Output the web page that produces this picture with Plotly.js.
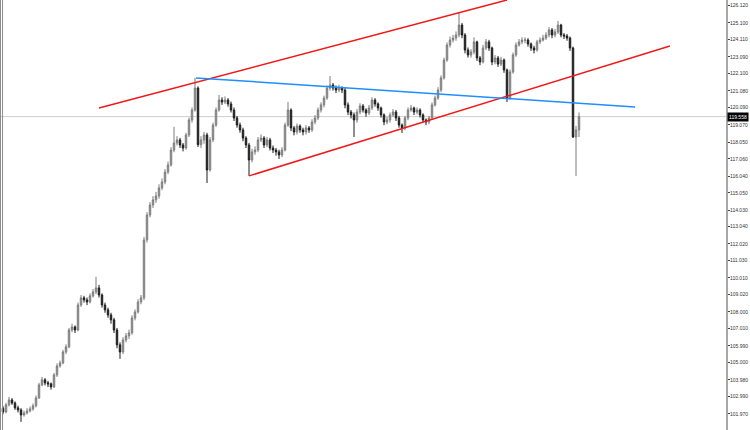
<!DOCTYPE html>
<html>
<head>
<meta charset="utf-8">
<script src="https://cdn.plot.ly/plotly-3.0.1.min.js"></script>
<style>html,body{margin:0;padding:0;background:#fff;}#chart{width:750px;height:430px;}</style>
</head>
<body>
<div id="chart"></div>
<script>
// OHLC prices (bar index 0..192)
const opens = [102.30,102.08,102.50,102.79,102.61,102.32,102.20,101.90,102.02,102.14,102.26,102.44,102.91,103.68,103.98,103.80,103.74,103.56,104.27,104.80,104.98,105.63,105.93,106.93,107.11,106.93,108.41,108.83,108.71,108.59,108.95,109.18,109.42,109.00,108.41,108.12,107.82,107.53,106.93,106.05,105.63,106.34,106.58,106.76,107.64,108.00,108.59,108.83,112.26,113.74,114.33,114.63,114.86,115.34,115.69,116.28,116.70,117.58,118.00,118.18,117.88,117.70,118.47,119.36,119.95,121.25,117.90,118.18,118.47,116.40,118.18,119.06,119.95,120.54,120.42,120.54,120.31,119.95,119.48,119.06,118.77,118.29,117.88,116.99,117.47,117.58,118.18,118.29,117.88,118.18,117.70,117.58,117.47,117.29,117.58,119.06,119.95,118.89,118.65,119.00,118.77,118.65,118.89,118.77,119.24,119.48,119.95,120.25,120.66,121.25,121.43,121.25,121.13,121.25,121.13,120.25,119.83,119.66,119.36,119.83,120.19,119.95,119.77,120.07,120.54,120.31,120.07,119.66,119.24,119.36,119.66,119.83,119.48,119.06,118.89,119.48,119.95,120.07,119.83,119.95,119.66,119.36,119.24,119.48,120.25,120.66,121.13,121.85,122.91,123.80,124.09,124.21,124.39,124.98,124.39,123.50,123.21,123.38,123.98,123.03,122.79,123.62,123.98,123.62,122.79,123.03,122.67,122.91,122.32,120.66,122.20,123.21,123.80,123.98,124.09,124.09,123.86,123.62,123.50,123.98,124.09,124.21,124.39,124.69,124.39,124.57,124.98,124.39,124.33,124.21,123.62,118.35,118.77];
const highs = [102.42,102.62,102.97,102.90,102.70,102.45,102.30,102.15,102.30,102.40,102.58,103.05,103.80,104.15,104.08,103.92,103.82,104.38,104.95,105.12,105.75,106.08,107.05,107.30,107.20,108.55,109.00,108.95,108.85,109.10,109.35,110.07,109.60,109.10,108.55,108.25,107.95,107.65,107.05,106.20,106.50,106.75,106.95,107.80,108.15,108.75,109.00,112.44,113.90,114.50,114.85,115.10,115.55,115.90,116.45,116.90,117.75,118.95,118.40,118.30,118.00,118.60,119.50,120.10,121.85,121.35,118.40,118.65,118.60,118.35,119.20,120.10,120.84,120.70,120.75,120.65,120.45,120.10,119.60,119.20,118.90,118.40,118.00,117.65,117.80,118.35,118.50,118.40,118.35,118.30,117.85,117.70,117.60,117.75,119.20,120.42,120.05,119.00,119.15,119.10,118.90,119.05,119.00,119.40,119.65,120.10,120.40,120.80,121.40,121.96,121.55,121.40,121.45,121.35,121.25,120.40,119.95,119.80,120.00,120.35,120.30,120.05,120.25,120.70,120.65,120.40,120.15,119.75,119.55,119.80,120.00,119.95,119.60,119.15,119.60,120.10,120.25,120.15,120.10,120.05,119.75,119.45,119.60,120.40,120.80,121.30,122.00,123.05,123.95,124.30,124.40,124.60,125.75,125.10,124.50,123.65,123.55,124.25,124.05,123.15,123.80,124.15,124.10,123.70,123.20,123.15,123.10,123.00,122.40,122.35,123.35,123.95,124.15,124.25,124.25,124.20,123.95,123.75,124.10,124.25,124.40,124.55,124.85,124.80,124.75,125.22,125.05,124.50,124.45,124.30,123.70,119.00,119.80];
const lows = [101.95,102.00,102.40,102.50,102.20,102.05,101.49,101.80,101.92,102.05,102.15,102.35,102.85,103.60,103.65,103.55,103.40,103.50,104.15,104.70,104.90,105.50,105.85,106.80,106.75,106.85,108.30,108.55,108.40,108.50,108.85,109.05,108.85,108.25,107.95,107.65,107.30,106.75,105.85,105.22,105.50,106.20,106.40,106.65,107.50,107.90,108.45,108.70,112.10,113.60,114.15,114.45,114.70,115.20,115.55,116.15,116.60,117.45,117.85,117.70,117.50,117.60,118.35,119.20,119.85,117.76,117.70,117.95,115.63,116.30,118.05,118.95,119.85,120.25,120.30,120.15,119.80,119.30,118.90,118.60,118.10,117.70,116.05,116.85,117.30,117.45,118.05,117.70,117.75,117.55,117.40,117.25,117.05,117.15,117.50,118.95,118.70,118.45,118.50,118.60,118.45,118.50,118.60,118.65,119.10,119.35,119.80,120.10,120.55,121.10,121.10,120.95,121.00,120.95,120.05,119.65,119.45,118.35,119.20,119.70,119.80,119.55,119.65,119.95,120.15,119.90,119.50,119.05,119.10,119.20,119.55,119.30,118.90,118.59,118.75,119.35,119.85,119.65,119.70,119.50,119.20,119.05,119.10,119.40,120.15,120.55,121.00,121.75,122.80,123.65,123.95,124.05,124.25,124.20,123.30,123.05,123.05,123.25,122.85,122.60,122.70,123.50,123.45,122.60,122.65,122.50,122.55,122.15,120.42,120.55,122.10,123.10,123.70,123.85,123.90,123.70,123.45,123.30,123.40,123.85,124.00,124.10,124.25,124.20,124.25,124.45,124.25,124.15,124.05,123.45,118.30,116.05,118.35];
const closes = [102.08,102.50,102.79,102.61,102.32,102.20,101.90,102.02,102.14,102.26,102.44,102.91,103.68,103.98,103.80,103.74,103.56,104.27,104.80,104.98,105.63,105.93,106.93,107.11,106.93,108.41,108.83,108.71,108.59,108.95,109.18,109.42,109.00,108.41,108.12,107.82,107.53,106.93,106.05,105.63,106.34,106.58,106.76,107.64,108.00,108.59,108.83,112.26,113.74,114.33,114.63,114.86,115.34,115.69,116.28,116.70,117.58,118.00,118.18,117.88,117.70,118.47,119.36,119.95,121.25,117.90,118.18,118.47,116.40,118.18,119.06,119.95,120.54,120.42,120.54,120.31,119.95,119.48,119.06,118.77,118.29,117.88,116.99,117.47,117.58,118.18,118.29,117.88,118.18,117.70,117.58,117.47,117.29,117.58,119.06,119.95,118.89,118.65,119.00,118.77,118.65,118.89,118.77,119.24,119.48,119.95,120.25,120.66,121.25,121.43,121.25,121.13,121.25,121.13,120.25,119.83,119.66,119.36,119.83,120.19,119.95,119.77,120.07,120.54,120.31,120.07,119.66,119.24,119.36,119.66,119.83,119.48,119.06,118.89,119.48,119.95,120.07,119.83,119.95,119.66,119.36,119.24,119.48,120.25,120.66,121.13,121.85,122.91,123.80,124.09,124.21,124.39,124.98,124.39,123.50,123.21,123.38,123.98,123.03,122.79,123.62,123.98,123.62,122.79,123.03,122.67,122.91,122.32,120.66,122.20,123.21,123.80,123.98,124.09,124.09,123.86,123.62,123.50,123.98,124.09,124.21,124.39,124.69,124.39,124.57,124.98,124.39,124.33,124.21,123.62,118.35,118.77,119.558];

// Price axis tick labels
const tickValues = [126.120,125.100,124.110,123.090,122.100,121.080,120.090,119.070,118.050,117.060,116.040,115.050,114.030,113.040,112.020,111.030,110.010,109.020,108.000,107.010,105.990,105.000,103.980,102.990,101.970];
const tickLabels = tickValues.map(v => v.toFixed(3));
const currentPrice = 119.558;

// Trend lines: [x0, y0, x1, y1] in bar index / price
const upperChannel = [32, 120.07, 168, 126.46];
const lowerChannel = [82, 116.05, 222.3, 123.74];
const blueLine = [64.3, 121.85, 210.7, 120.13];

const idx = closes.map((_, i) => i);

const trace = {
  type: 'candlestick',
  x: idx, open: opens, high: highs, low: lows, close: closes,
  increasing: {line: {color: '#7c7c7c', width: 1}, fillcolor: '#a8a8a8'},
  decreasing: {line: {color: '#1c1c1c', width: 1}, fillcolor: '#2e2e2e'},
  whiskerwidth: 0,
  hoverinfo: 'skip'
};

function seg(a, color) {
  return {type: 'line', xref: 'x', yref: 'y', x0: a[0], y0: a[1], x1: a[2], y1: a[3],
          line: {color: color, width: 1.5}};
}

const layout = {
  width: 750, height: 430,
  margin: {l: 0, r: 24, t: 0, b: 0, pad: 0},
  paper_bgcolor: '#ffffff', plot_bgcolor: '#ffffff',
  showlegend: false,
  xaxis: {range: [-1, 241], visible: false, rangeslider: {visible: false}, fixedrange: true},
  yaxis: {
    range: [101.01, 126.46], side: 'right', showgrid: false, zeroline: false,
    tickmode: 'array', tickvals: tickValues, ticktext: tickLabels,
    ticks: 'outside', ticklen: 2, tickwidth: 1, tickcolor: '#444',
    ticklabelstandoff: -1,
    tickfont: {family: 'Liberation Sans, Arial, sans-serif', size: 5, color: '#333'},
    showline: true, linecolor: '#a8a8a8', linewidth: 2, automargin: false, fixedrange: true
  },
  shapes: [
    {type: 'line', xref: 'paper', yref: 'y', x0: 0, x1: 1, y0: currentPrice, y1: currentPrice,
     line: {color: '#cfcfcf', width: 1}, layer: 'below'},
    {type: 'line', xref: 'paper', yref: 'paper', x0: 0.0007, x1: 0.0007, y0: 0, y1: 1,
     line: {color: '#8c8c8c', width: 1}},
    {type: 'line', xref: 'paper', yref: 'paper', x0: 0.0035, x1: 0.0035, y0: 0, y1: 1,
     line: {color: '#8c8c8c', width: 1}},
    seg(upperChannel, '#f01818'),
    seg(lowerChannel, '#f01818'),
    seg(blueLine, '#1e8fff')
  ],
  annotations: [
    {xref: 'paper', yref: 'y', x: 1, y: currentPrice, xanchor: 'left', yanchor: 'middle',
     xshift: 1, text: currentPrice.toFixed(3), showarrow: false, bgcolor: '#000000',
     font: {family: 'Liberation Sans, Arial, sans-serif', size: 5, color: '#ffffff'}, borderpad: 1}
  ]
};

Plotly.newPlot('chart', [trace], layout, {staticPlot: true, displayModeBar: false});
</script>
</body>
</html>
